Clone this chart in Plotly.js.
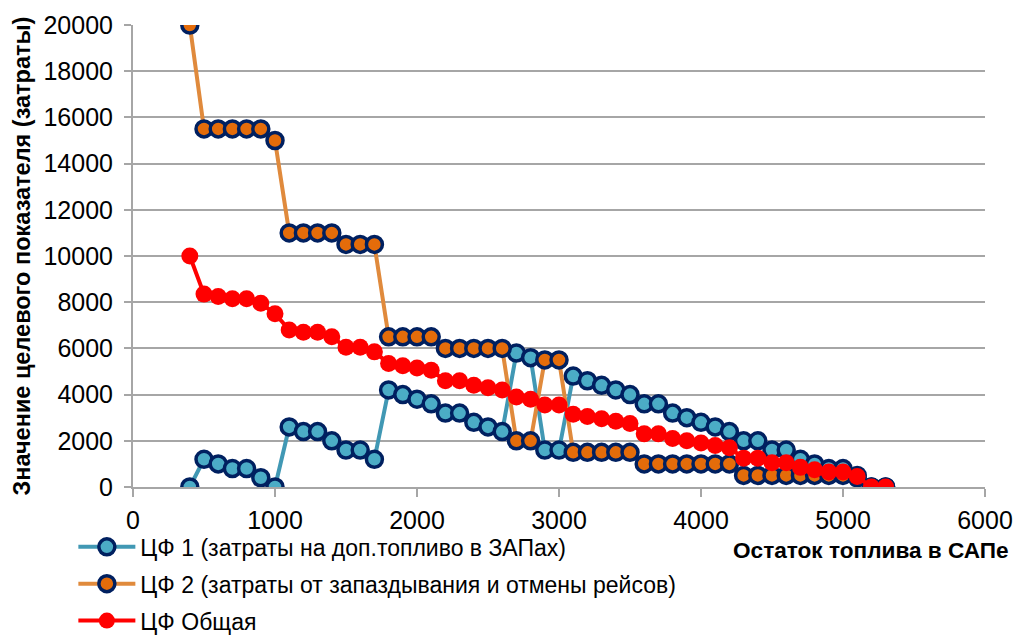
<!DOCTYPE html>
<html>
<head>
<meta charset="utf-8">
<script src="https://cdn.plot.ly/plotly-3.0.1.min.js"></script>
<style>
  html, body { margin: 0; padding: 0; background: #fff; }
  #chart { width: 1014px; height: 639px; }
</style>
</head>
<body>
<div id="chart"></div>
<script>
// Остаток топлива в САПе
const fuelLeft = [400, 500, 600, 700, 800, 900, 1000, 1100, 1200, 1300, 1400, 1500, 1600, 1700,
  1800, 1900, 2000, 2100, 2200, 2300, 2400, 2500, 2600, 2700, 2800, 2900, 3000, 3100, 3200,
  3300, 3400, 3500, 3600, 3700, 3800, 3900, 4000, 4100, 4200, 4300, 4400, 4500, 4600, 4700,
  4800, 4900, 5000, 5100, 5200, 5300];

// ЦФ 1 — затраты на доп. топливо в ЗАПах
const cf1 = [0, 1200, 1000, 800, 800, 400, 0, 2600, 2400, 2400, 2000, 1600, 1600, 1200,
  4200, 4000, 3800, 3600, 3200, 3200, 2800, 2600, 2400, 5800, 5600, 1600, 1600, 4800, 4600,
  4400, 4200, 4000, 3600, 3600, 3200, 3000, 2800, 2600, 2400, 2000, 2000, 1600, 1600, 1200,
  1000, 800, 800, 400, 0, 0];

// ЦФ 2 — затраты от запаздывания и отмены рейсов
const cf2 = [20000, 15500, 15500, 15500, 15500, 15500, 15000, 11000, 11000, 11000, 11000,
  10500, 10500, 10500, 6500, 6500, 6500, 6500, 6000, 6000, 6000, 6000, 6000, 2000, 2000,
  5500, 5500, 1500, 1500, 1500, 1500, 1500, 1000, 1000, 1000, 1000, 1000, 1000, 1000,
  500, 500, 500, 500, 500, 500, 500, 500, 500, 0, 0];

// ЦФ Общая
const cfTotal = [10000, 8350, 8250, 8150, 8150, 7950, 7500, 6800, 6700, 6700, 6500, 6050,
  6050, 5850, 5350, 5250, 5150, 5050, 4600, 4600, 4400, 4300, 4200, 3900, 3800, 3550, 3550,
  3150, 3050, 2950, 2850, 2750, 2300, 2300, 2100, 2000, 1900, 1800, 1700, 1250, 1250, 1050,
  1050, 850, 750, 650, 650, 450, 0, 0];

const seriesNames = [
  'ЦФ 1 (затраты на доп.топливо в ЗАПах)',
  'ЦФ 2 (затраты от запаздывания и отмены рейсов)',
  'ЦФ Общая'
];
const xTitle = 'Остаток топлива в САПе';
const yTitle = 'Значение целевого показателя (затраты)';

const FONT = '"Liberation Sans", Arial, sans-serif';

const traces = [
  {
    x: fuelLeft, y: cf1, name: seriesNames[0], type: 'scatter', mode: 'lines+markers',
    line: { color: '#4198B4', width: 4 },
    marker: { size: 16, color: '#4BACC6', line: { color: '#002060', width: 3.5 } },
    legendgroup: 'a'
  },
  {
    x: fuelLeft, y: cf2, name: seriesNames[1], type: 'scatter', mode: 'lines+markers',
    line: { color: '#E08A3C', width: 4 },
    marker: { size: 16, color: '#E46C0A', line: { color: '#002060', width: 3.5 } },
    legendgroup: 'b'
  },
  {
    x: fuelLeft, y: cfTotal, name: seriesNames[2], type: 'scatter', mode: 'lines+markers',
    line: { color: '#FF0000', width: 4 },
    marker: { size: 17, color: '#FF0000' },
    legendgroup: 'c'
  }
];

const layout = {
  width: 1014, height: 639,
  paper_bgcolor: '#ffffff', plot_bgcolor: '#ffffff',
  margin: { l: 133, r: 29, t: 25, b: 152, autoexpand: false },
  font: { family: FONT, size: 23, color: '#000000' },
  showlegend: true,
  legend: {
    x: -0.07, y: -0.083, xanchor: 'left', yanchor: 'top',
    orientation: 'v', tracegroupgap: 4, itemwidth: 57,
    font: { family: FONT, size: 23, color: '#000000' },
    bgcolor: 'rgba(0,0,0,0)'
  },
  xaxis: {
    range: [0, 6000], dtick: 1000, tick0: 0, tickformat: 'd',
    showgrid: false, zeroline: false, automargin: false,
    showline: true, linecolor: '#A6A6A6', linewidth: 2,
    ticks: 'outside', ticklen: 8, tickwidth: 2, tickcolor: '#A6A6A6',
    ticklabelstandoff: 2,
    tickfont: { family: FONT, size: 25, color: '#000000' },
    fixedrange: true
  },
  yaxis: {
    range: [0, 20000], dtick: 2000, tick0: 0, tickformat: 'd',
    showgrid: true, gridcolor: '#A6A6A6', gridwidth: 2,
    zeroline: false, automargin: false,
    showline: true, linecolor: '#A6A6A6', linewidth: 2,
    ticks: 'outside', ticklen: 7, tickwidth: 2, tickcolor: '#A6A6A6',
    ticklabelstandoff: 6,
    tickfont: { family: FONT, size: 25, color: '#000000' },
    title: { text: '<b>' + yTitle + '</b>', font: { family: FONT, size: 23.5, color: '#000000' }, standoff: 6 },
    fixedrange: true
  },
  annotations: [
    {
      text: '<b>' + xTitle + '</b>', xref: 'paper', yref: 'paper',
      x: 1.03, y: -0.138, xanchor: 'right', yanchor: 'middle', showarrow: false,
      font: { family: FONT, size: 22.6, color: '#000000' }
    }
  ]
};

Plotly.newPlot('chart', traces, layout, { displayModeBar: false, staticPlot: true });
</script>
</body>
</html>
